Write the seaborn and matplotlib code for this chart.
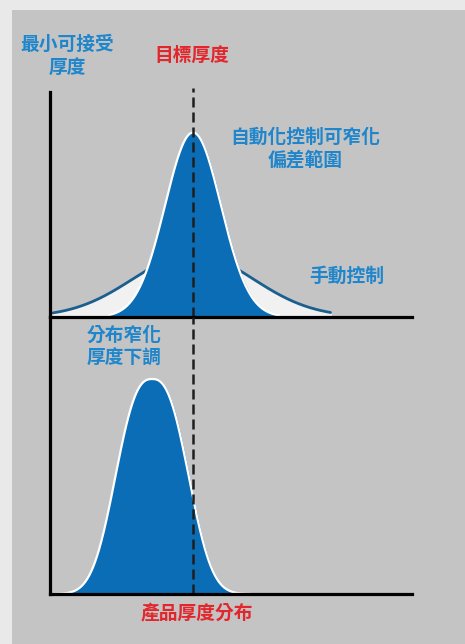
import os
import numpy as np
import pandas as pd
import matplotlib
matplotlib.use("Agg")
import matplotlib.pyplot as plt
import seaborn as sns

os.environ['MPLCONFIGDIR'] = '/tmp'

# distribution parameters (thickness units 0-100)
target_thickness = 39.5
# mean, width, peak height, shape exponent
manual_mean, manual_width, manual_peak, manual_shape = 39.5, 23.4, 28.0, 2.0
auto_mean, auto_width, auto_peak, auto_shape = 39.5, 10.9, 82.0, 2.0
shifted_mean, shifted_width, shifted_peak, shifted_shape = 28.2, 12.3, 77.6, 2.6

manual_range = [0.8, 77.5]
auto_range = [16.5, 63.5]
shifted_range = [0.8, 55.5]

labels_blue = ["最小可接受\n厚度", "自動化控制可窄化\n偏差範圍", "手動控制", "分布窄化\n厚度下調"]
labels_red = ["目標厚度", "產品厚度分布"]


def bell(mean, width, peak, shape, rng, n=400):
    x = np.linspace(rng[0], rng[1], n)
    return pd.DataFrame({"x": x, "y": peak * np.exp(-np.abs((x - mean) / width) ** shape)})


sns.set_theme(style="white")
plt.rcParams['font.family'] = ['Noto Sans CJK TC', 'DejaVu Sans']

W, H = 465, 644
fig = plt.figure(figsize=(W / 100, H / 100), dpi=100, facecolor="#e9e9e9")
fig.patches.append(plt.Rectangle((12 / W, 0), 1, 1 - 10 / H, transform=fig.transFigure,
                                 facecolor="#c4c4c4", edgecolor="none", zorder=-5))

blue = "#0a6db5"
text_blue = "#1f86cc"
red = "#e2262c"

ax_top = fig.add_axes([50 / W, (H - 317) / H, 362 / W, 225 / H])
ax_bot = fig.add_axes([50 / W, (H - 594) / H, 362 / W, 277 / H])

for ax in (ax_top, ax_bot):
    ax.set_facecolor("none")
    ax.set_xlim(0, 100)
    ax.set_ylim(0, 100)
    ax.set_xticks([])
    ax.set_yticks([])
    for s in ("top", "right"):
        ax.spines[s].set_visible(False)
    for s in ("left", "bottom"):
        ax.spines[s].set_color("black")
        ax.spines[s].set_linewidth(2.3)
        ax.spines[s].set_zorder(5)
    ax.spines["left"].set_capstyle("projecting")

# top: manual control (wide) and automatic control (narrow)
manual = bell(manual_mean, manual_width, manual_peak, manual_shape, manual_range)
ax_top.fill_between(manual["x"], manual["y"], color="#f1f1f1", zorder=1)
sns.lineplot(data=manual, x="x", y="y", ax=ax_top, color="#1b5f8f", lw=2, zorder=2)

auto = bell(auto_mean, auto_width, auto_peak, auto_shape, auto_range)
ax_top.fill_between(auto["x"], auto["y"], color=blue, zorder=3)
sns.lineplot(data=auto, x="x", y="y", ax=ax_top, color="white", lw=1.6, zorder=3)

# bottom: narrowed and shifted distribution
shifted = bell(shifted_mean, shifted_width, shifted_peak, shifted_shape, shifted_range)
ax_bot.fill_between(shifted["x"], shifted["y"], color=blue, zorder=1)
sns.lineplot(data=shifted, x="x", y="y", ax=ax_bot, color="white", lw=1.6, zorder=2)

for ax in (ax_top, ax_bot):
    ax.set_xlabel("")
    ax.set_ylabel("")

# target thickness dashed line across both panels
ax_top.axvline(target_thickness, ymin=0, ymax=(317 - 88) / 225, color="#1e1e1e", lw=1.8,
               ls=(0, (4, 2)), clip_on=False, zorder=4)
ax_bot.axvline(target_thickness, ymin=0, ymax=1.0, color="#1e1e1e", lw=1.8,
               ls=(0, (4, 2)), clip_on=False, zorder=4)

txt = dict(fontsize=13.5, fontweight="bold", ha="center", va="center", linespacing=1.25)
fig.text(67 / W, 1 - 56 / H, labels_blue[0], color=text_blue, **txt)
fig.text(305 / W, 1 - 149 / H, labels_blue[1], color=text_blue, **txt)
fig.text(347 / W, 1 - 276 / H, labels_blue[2], color=text_blue, **txt)
fig.text(124 / W, 1 - 347 / H, labels_blue[3], color=text_blue, **txt)
fig.text(192 / W, 1 - 55 / H, labels_red[0], color=red, **txt)
fig.text(197 / W, 1 - 614 / H, labels_red[1], color=red, **txt)

plt.savefig("out.png", dpi=100, facecolor=fig.get_facecolor())
plt.close()
